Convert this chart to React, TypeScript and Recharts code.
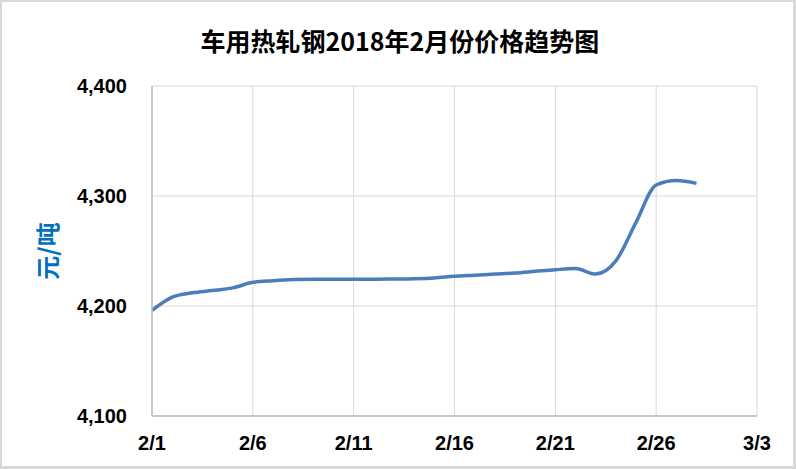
import React from "react"
import { LineChart, Line, XAxis, YAxis, CartesianGrid, Label } from "recharts"

// 2/1 .. 3/3, one entry per day
const dates = [
  "2/1", "2/2", "2/3", "2/4", "2/5", "2/6", "2/7", "2/8", "2/9", "2/10",
  "2/11", "2/12", "2/13", "2/14", "2/15", "2/16", "2/17", "2/18", "2/19", "2/20",
  "2/21", "2/22", "2/23", "2/24", "2/25", "2/26", "2/27", "2/28", "3/1", "3/2", "3/3"
]

// 元/吨 (no data after 2/28)
const prices: (number | null)[] = [
  4196, 4208, 4212, 4214, 4216.5, 4221.5, 4223, 4224, 4224.3, 4224.3,
  4224.3, 4224.3, 4224.5, 4224.8, 4225.5, 4227, 4228, 4229, 4230, 4231.5,
  4233, 4234, 4229, 4241, 4276, 4310, 4314, 4311.5, null, null, null
]

const xTicks = [0, 5, 10, 15, 20, 25, 30]
const yTicks = [4100, 4200, 4300, 4400]

const title = "车用热轧钢2018年2月份价格趋势图"
const yLabel = "元/吨"

const chartData = dates.map((d, i) => ({ day: i, date: d, price: prices[i] }))

const tickStyle = { fill: "#000", fontSize: 20, fontWeight: 700, fontFamily: "'Liberation Sans', Arial, sans-serif" }

export default function App() {
  return (
    <div
      style={{
        position: "absolute",
        left: 0,
        top: 0,
        width: 796,
        height: 469,
        background: "#fff",
        boxSizing: "border-box",
        borderTop: "2px solid #d9d9d9",
        borderLeft: "2px solid #d9d9d9",
        borderRight: "3px solid #d9d9d9",
        borderBottom: "3px solid #d9d9d9",
      }}
    >
      <div
        style={{
          position: "absolute",
          left: 0,
          top: 21,
          width: 796,
          textAlign: "center",
          fontFamily: "'Noto Sans CJK SC', sans-serif",
          fontWeight: 700,
          fontSize: 25,
          lineHeight: "34px",
          color: "#000",
        }}
      >
        {title}
      </div>
      <div style={{ position: "absolute", left: -2, top: -2 }}>
        <LineChart
          width={796}
          height={469}
          data={chartData}
          margin={{ top: 86, right: 39, bottom: 23, left: 0 }}
        >
          <CartesianGrid stroke="#d9d9d9" strokeWidth={1} />
          <XAxis
            dataKey="day"
            type="number"
            domain={[0, 30]}
            ticks={xTicks}
            interval={0}
            tickFormatter={(v: number) => dates[v]}
            tick={tickStyle}
            tickLine={false}
            tickSize={0}
            tickMargin={20}
            axisLine={{ stroke: "#bfbfbf", strokeWidth: 1.5 }}
            height={30}
          />
          <YAxis
            type="number"
            domain={[4100, 4400]}
            ticks={yTicks}
            interval={0}
            tickFormatter={(v: number) => v.toLocaleString("en-US")}
            tick={tickStyle}
            tickLine={false}
            tickSize={0}
            tickMargin={25}
            axisLine={{ stroke: "#bfbfbf", strokeWidth: 1.5 }}
            width={152}
          >
            <Label
              value={yLabel}
              angle={-90}
              position="center"
              dx={-28}
              style={{
                fill: "#0070C0",
                fontSize: 24,
                fontWeight: 700,
                fontFamily: "'Noto Sans CJK SC', sans-serif",
              }}
            />
          </YAxis>
          <Line
            type="monotone"
            dataKey="price"
            stroke="#4a7ebb"
            strokeWidth={3.5}
            dot={false}
            connectNulls={false}
            isAnimationActive={false}
          />
        </LineChart>
      </div>
    </div>
  )
}
